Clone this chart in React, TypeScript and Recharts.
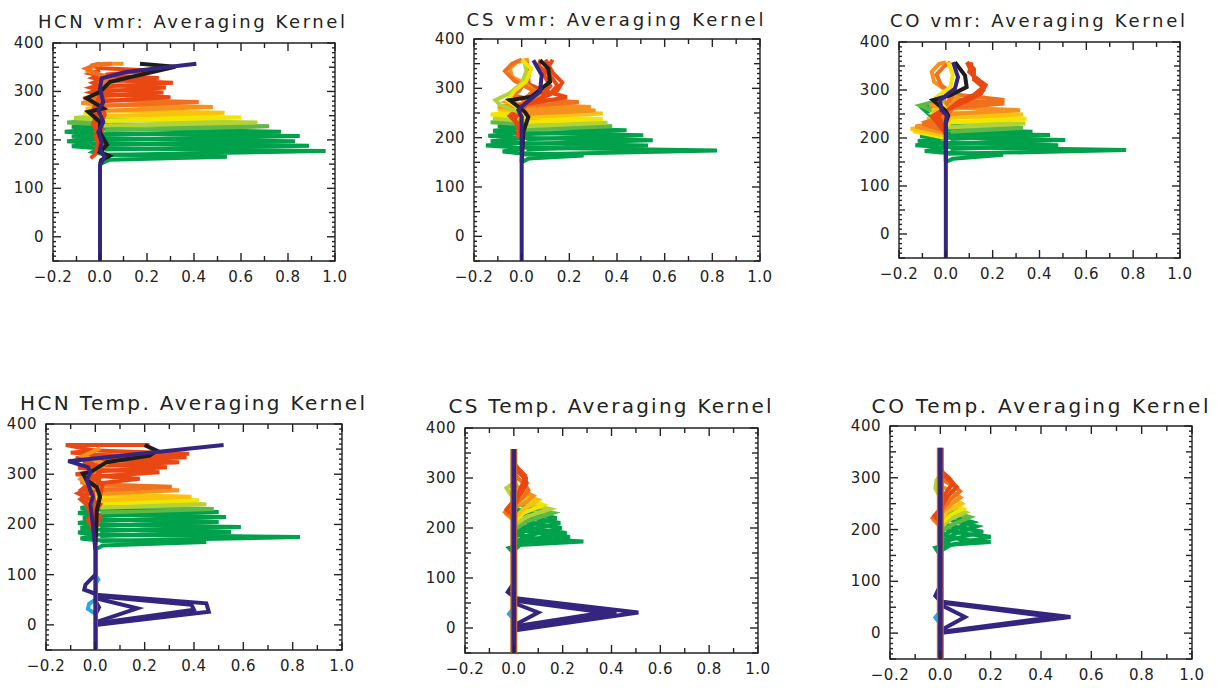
import { ScatterChart, Scatter, XAxis, YAxis, ReferenceArea } from "recharts";

type Pt = [number, number];

// axis labels
const X_LABELS = [-0.2, 0, 0.2, 0.4, 0.6, 0.8, 1.0];
const Y_LABELS = [0, 100, 200, 300, 400];
const X_TICKS: number[] = [];
for (let i = 0; i <= 12; i++) X_TICKS.push(Math.round((i * 0.1 - 0.2) * 10) / 10);
const Y_TICKS: number[] = [];
for (let v = -50; v <= 400; v += 10) Y_TICKS.push(v);

// kernel colours (low altitude -> high altitude)
const G = "#00a14b";
const LG = "#5db947";
const YG = "#b3d235";
const Y = "#f2e500";
const YO = "#f9c20f";
const O = "#f5921e";
const DO = "#f1701d";
const R = "#e94812";
const K = "#1d1d1d";
const P = "#352580";
const B = "#27a9e1";
const EDGE = "#c8651c";

// ---- HCN vmr ---- [value, altitude]
const HCN_VMR_KERNELS: Pt[][] = [
  [[0, 150], [0.04, 159], [0.54, 165], [0.02, 170], [-0.03, 175], [0, 183]],
  [[0.01, 169], [0.96, 177], [-0.02, 183], [-0.12, 187], [0.01, 193]],
  [[0.02, 180], [0.89, 188], [-0.03, 193], [-0.14, 197], [0.02, 203]],
  [[0.01, 190], [0.83, 197], [-0.02, 203], [-0.12, 207], [0.01, 213]],
  [[0.02, 200], [0.85, 208], [-0.03, 213], [-0.15, 217], [0.02, 223]],
  [[0.01, 210], [0.77, 217], [-0.02, 223], [-0.12, 227], [0.01, 233]],
  [[0.02, 220], [0.72, 228], [-0.03, 233], [-0.14, 236], [0.02, 242]],
  [[0.01, 229], [0.67, 236], [-0.02, 242], [-0.11, 245], [0.01, 251]],
  [[0.02, 239], [0.6, 246], [-0.02, 251], [-0.07, 254], [0.01, 260]],
  [[0.01, 249], [0.53, 256], [-0.02, 261], [-0.06, 264], [0.01, 270]],
  [[0.02, 260], [0.48, 268], [-0.02, 273], [-0.08, 276], [0.01, 282]],
  [[0.01, 270], [0.42, 278], [-0.03, 283], [-0.07, 286], [0.01, 292]],
  [[-0.04, 162], [0.02, 188], [-0.03, 232], [0.01, 280], [0.3, 288], [-0.01, 294], [-0.04, 298], [0, 304]],
  [[0.02, 164], [-0.02, 208], [0.02, 252], [0, 290], [0.27, 298], [-0.01, 304], [-0.04, 308], [0, 314]],
  [[-0.02, 172], [0.01, 222], [-0.03, 262], [0.01, 300], [0.28, 308], [-0.01, 314], [-0.03, 318], [0, 324]],
  [[0.01, 182], [-0.02, 242], [0.01, 310], [0.31, 318], [0, 324], [-0.03, 328], [0, 334]],
  [[0, 252], [0.02, 320], [0.25, 328], [0, 333], [-0.04, 337], [0, 344]],
  [[0, 322], [0.03, 335], [0.22, 343], [0.01, 348], [-0.04, 353], [0, 357]],
  [[0, 302], [0.05, 320], [0.02, 332], [-0.05, 342], [-0.03, 353], [0.02, 357], [0.1, 357]],
  [[0, 312], [0.04, 327], [-0.02, 338], [-0.06, 347], [-0.02, 355], [0.05, 357]],
];
const HCN_VMR_COLORS = [G, G, G, G, G, G, LG, YG, Y, YO, O, DO, R, R, R, R, R, R, O, DO];
const HCN_VMR_BLACK: Pt[] = [
  [0, 150], [0.005, 158], [0.04, 167], [0, 175], [0.03, 190], [0, 215], [0, 237], [-0.05, 258],
  [0.014, 265], [-0.057, 286], [0, 299], [0.043, 320], [0.32, 351], [0.17, 357],
];
const HCN_VMR_PURPLE: Pt[] = [
  [0, -50], [0, 148], [0.02, 165], [0, 180], [0.007, 196], [-0.007, 216], [0.014, 237],
  [-0.007, 261], [0.014, 278], [0, 306], [0.007, 327], [0.11, 340], [0.41, 357],
];

// ---- CS vmr ----
const CS_VMR_KERNELS: Pt[][] = [
  [[0, 150], [0.03, 158], [0.26, 164], [-0.02, 169], [-0.08, 172], [0, 178]],
  [[0.01, 166], [0.82, 174], [-0.02, 180], [-0.15, 184], [0.01, 190]],
  [[0.02, 176], [0.53, 184], [-0.02, 189], [-0.13, 193], [0.01, 199]],
  [[0.01, 187], [0.55, 195], [-0.03, 200], [-0.14, 204], [0.01, 210]],
  [[0.02, 197], [0.51, 205], [-0.02, 210], [-0.12, 214], [0.01, 220]],
  [[0.01, 207], [0.44, 215], [-0.02, 220], [-0.1, 223], [0.01, 229]],
  [[0.01, 216], [0.38, 223], [-0.03, 228], [-0.13, 231], [0, 237]],
  [[0.02, 223], [0.36, 230], [-0.02, 235], [-0.12, 239], [0.01, 245]],
  [[0.01, 231], [0.34, 238], [-0.03, 243], [-0.13, 247], [0, 253]],
  [[0.02, 242], [0.34, 249], [-0.02, 254], [-0.1, 257], [0, 263]],
  [[0.01, 248], [0.31, 255], [-0.03, 260], [-0.1, 263], [0, 269]],
  [[0.02, 255], [0.29, 262], [0, 268], [-0.06, 273], [-0.02, 280]],
  [[0.01, 264], [0.24, 272], [0.02, 279], [-0.04, 287], [-0.01, 295], [0.03, 325], [0.02, 358]],
  [[0, 200], [-0.03, 238], [0.02, 268], [0.19, 282], [0.1, 294], [0.03, 308], [0.02, 358]],
  [[-0.02, 200], [0, 242], [-0.03, 262], [0.06, 277], [0.15, 296], [0.17, 312], [0.13, 332], [0.1, 358]],
  [[0, 210], [-0.04, 248], [0.02, 268], [0.12, 288], [0.15, 306], [0.12, 326], [0.07, 346], [0.08, 358]],
  [[0.01, 215], [-0.05, 244], [0.01, 266], [0.08, 285], [0.12, 305], [0.09, 330], [0.12, 350], [0.13, 358]],
  [[0, 268], [0.07, 287], [0.03, 305], [-0.04, 323], [-0.05, 340], [-0.02, 354], [0.03, 358]],
  [[0, 273], [0.05, 295], [-0.03, 315], [-0.07, 335], [-0.04, 350], [0, 358]],
  [[0, 250], [-0.09, 266], [-0.11, 276], [-0.05, 290], [0, 310], [0.02, 335], [0.01, 358]],
  [[0, 255], [-0.06, 275], [-0.03, 295], [0.02, 315], [0.04, 340], [0, 358]],
];
const CS_VMR_COLORS = [G, G, G, G, G, G, LG, YG, Y, YO, O, O, DO, R, R, R, R, O, DO, YG, Y];
const CS_VMR_BLACK: Pt[] = [
  [0, 150], [0.007, 212], [0.028, 242], [0.014, 252], [-0.05, 276], [0.04, 283],
  [0.119, 313], [0.112, 340], [0.077, 357],
];
const CS_VMR_PURPLE: Pt[] = [
  [0, -50], [0, 212], [0, 242], [-0.014, 256], [0.007, 266], [0.077, 293], [0.084, 327], [0.049, 357],
];

// ---- CO vmr ----
const CO_VMR_KERNELS: Pt[][] = [
  [[0, 150], [0.03, 157], [0.245, 165], [-0.02, 170], [-0.09, 173], [0, 179]],
  [[0.01, 167], [0.77, 175], [-0.02, 181], [-0.13, 185], [0.01, 191]],
  [[0.02, 177], [0.48, 185], [-0.02, 190], [-0.12, 194], [0.01, 200]],
  [[0.01, 188], [0.51, 196], [-0.03, 201], [-0.11, 204], [0.01, 210]],
  [[0.02, 198], [0.445, 206], [-0.02, 210], [-0.1, 213], [0.01, 219]],
  [[0.01, 206], [0.37, 213], [-0.02, 218], [-0.05, 240], [-0.1, 262], [0, 275]],
  [[0.02, 213], [0.33, 221], [-0.03, 226], [0, 245], [-0.11, 268], [0, 282]],
  [[0.01, 222], [0.34, 230], [-0.02, 235], [-0.08, 240], [0, 246]],
  [[0, 200], [-0.14, 214], [0, 224], [0.02, 233], [0.345, 240], [-0.02, 245], [-0.05, 250], [0, 256]],
  [[0, 205], [-0.15, 219], [0, 229], [0.02, 242], [0.33, 249], [-0.02, 254], [-0.06, 258], [0, 264]],
  [[0, 210], [-0.13, 224], [0, 234], [0.02, 250], [0.317, 258], [0, 264], [-0.07, 268], [0, 275]],
  [[0, 215], [-0.1, 229], [0, 240], [0.02, 262], [0.25, 272], [0.04, 280], [0, 290]],
  [[0, 220], [-0.08, 234], [0, 245], [0.04, 268], [0.25, 279], [0.05, 290], [0, 300]],
  [[0, 210], [-0.05, 240], [0, 258], [0.08, 275], [0.15, 292], [0.17, 310], [0.12, 328], [0.09, 358]],
  [[0, 215], [-0.06, 245], [0, 262], [0.1, 282], [0.16, 300], [0.15, 316], [0.1, 338], [0.11, 358]],
  [[0, 220], [-0.04, 250], [0.02, 268], [0.12, 290], [0.16, 306], [0.12, 322], [0.12, 344], [0.09, 358]],
  [[0, 265], [0.05, 285], [0, 300], [-0.05, 317], [-0.06, 338], [-0.03, 354], [0, 358]],
  [[0, 268], [0.03, 292], [-0.02, 310], [-0.04, 332], [-0.01, 348], [0.02, 358]],
  [[0, 260], [-0.04, 285], [0.02, 306], [0.03, 332], [0.01, 358]],
];
const CO_VMR_COLORS = [G, G, G, G, G, G, LG, YG, Y, YO, O, DO, DO, R, R, R, O, DO, Y];
const CO_VMR_BLACK: Pt[] = [
  [0, 150], [0, 231], [0.01, 247], [-0.004, 258], [-0.055, 279], [0.018, 289], [0.089, 306],
  [0.082, 330], [0.039, 358],
];
const CO_VMR_PURPLE: Pt[] = [
  [0, -50], [0, 231], [0.004, 247], [-0.018, 258], [-0.025, 279], [0.039, 303], [0.052, 327], [0.031, 358],
];

// ---- HCN temperature ----
const HCN_TEMP_KERNELS: Pt[][] = [
  [[0, 150], [0.03, 158], [0.45, 165], [0, 169], [-0.06, 172], [0, 178]],
  [[0.02, 167], [0.83, 175], [-0.01, 180], [-0.07, 184], [0.01, 190]],
  [[0.02, 177], [0.55, 185], [-0.01, 190], [-0.06, 193], [0.01, 199]],
  [[0.02, 187], [0.59, 195], [-0.02, 200], [-0.07, 203], [0.01, 209]],
  [[0.02, 197], [0.5, 205], [-0.01, 210], [-0.05, 213], [0.01, 219]],
  [[0.02, 207], [0.53, 215], [-0.02, 220], [-0.07, 223], [0.01, 229]],
  [[0.02, 217], [0.5, 225], [-0.01, 230], [-0.06, 233], [0.01, 239]],
  [[0.02, 224], [0.48, 231], [-0.01, 236], [-0.04, 239], [0.01, 245]],
  [[0.02, 233], [0.45, 240], [-0.01, 245], [-0.03, 248], [0.01, 254]],
  [[0.02, 241], [0.42, 248], [-0.01, 253], [-0.03, 256], [0.01, 262]],
  [[0.02, 248], [0.39, 255], [0, 260], [-0.04, 264], [0.01, 270]],
  [[0.02, 261], [0.34, 268], [0, 273], [-0.05, 277], [0.01, 283]],
  [[0.02, 268], [0.31, 275], [0, 280], [-0.06, 284], [0, 290]],
  [[0, 180], [-0.03, 210], [0.02, 240], [-0.07, 262], [0.02, 282], [0.18, 291], [0, 297], [-0.08, 300], [0, 306]],
  [[0, 190], [0.02, 215], [-0.06, 250], [0, 270], [0.02, 296], [0.26, 304], [0, 309], [-0.07, 313], [0, 318]],
  [[0, 200], [-0.05, 255], [0.01, 280], [0.02, 306], [0.29, 314], [0, 319], [-0.05, 323], [0, 328]],
  [[0, 210], [-0.06, 268], [0, 290], [0.02, 317], [0.34, 324], [0, 329], [-0.08, 332], [0, 336]],
  [[0, 220], [0.03, 280], [-0.03, 300], [0.02, 327], [0.37, 334], [0, 339], [-0.1, 343], [0, 347]],
  [[0, 230], [-0.02, 300], [0.03, 333], [0.38, 341], [0, 347], [-0.12, 358], [0.22, 358]],
  [[0, 270], [-0.06, 290], [-0.02, 305], [0.04, 320], [-0.05, 336], [0.02, 352]],
];
const HCN_TEMP_COLORS = [G, G, G, G, G, G, G, LG, YG, Y, YO, O, DO, R, R, R, R, R, R, O];
const HCN_TEMP_BLACK: Pt[] = [
  [0, 150], [0.006, 228], [0.019, 255], [0.006, 274], [-0.035, 288], [-0.05, 301], [-0.02, 304],
  [0.046, 324], [0.22, 337], [0.249, 347], [0.2, 358],
];
const HCN_TEMP_LOW: Pt[][] = [
  [[0, 3], [0.4, 30], [0.39, 40], [0.01, 57]],
  [[0, 0], [0.46, 26], [0.45, 43], [0, 60]],
  [[0, 5], [0.17, 33], [0.01, 52]],
  [[0, 100], [-0.04, 80], [-0.045, 70], [0, 62]],
  [[0, 20], [0.015, 35], [0, 48]],
];
const HCN_TEMP_BLUE: Pt[][] = [
  [[0, 22], [-0.03, 32], [-0.025, 42], [0, 50]],
  [[0, 82], [0.012, 90], [0, 100]],
];
const HCN_TEMP_EDGE: Pt[] = [[0.007, -50], [0.007, 150]];
const HCN_TEMP_PURPLE: Pt[] = [
  [0, -50], [0, 150], [-0.01, 200], [-0.02, 240], [-0.01, 255], [-0.035, 288], [-0.02, 304],
  [-0.03, 314], [-0.11, 326], [0.52, 358],
];

// ---- CS temperature ----
const CS_TEMP_KERNELS: Pt[][] = [
  [[0, 150], [-0.02, 160], [0.02, 166], [0.285, 173], [0.1, 178], [0.03, 185], [0, 195]],
  [[0, 155], [0.03, 168], [0.23, 182], [0.12, 188], [0.03, 196], [0, 205]],
  [[0, 160], [0.04, 174], [0.216, 190], [0.12, 196], [0.03, 204], [0, 215]],
  [[0, 170], [0.05, 184], [0.196, 200], [0.11, 207], [0.03, 215], [0, 225]],
  [[0, 180], [0.05, 195], [0.19, 210], [0.1, 218], [0.03, 226], [0, 235]],
  [[0, 190], [0.06, 205], [0.175, 220], [0.09, 228], [0.02, 236], [0, 245]],
  [[0, 195], [0.05, 213], [0.16, 230], [0.08, 238], [0.02, 247], [0, 255]],
  [[0, 205], [0.05, 222], [0.148, 238], [0.08, 246], [0.02, 255], [-0.01, 265], [-0.03, 280], [0, 290]],
  [[0, 212], [0.04, 230], [0.12, 246], [0.06, 256], [0.01, 266], [0, 275]],
  [[0, 218], [0.04, 238], [0.1, 256], [0.05, 265], [0.01, 274], [0, 285]],
  [[0, 215], [-0.03, 228], [0, 240], [0.05, 252], [0.08, 264], [0.04, 274], [0.01, 285], [0, 295]],
  [[0, 220], [-0.035, 232], [0, 248], [0.04, 262], [0.06, 275], [0.045, 288], [0.02, 298], [0, 310]],
  [[0, 225], [-0.03, 237], [0, 255], [0.03, 270], [0.053, 290], [0.04, 302], [0.01, 315], [0, 325]],
  [[0, 240], [0.02, 265], [0.046, 285], [0.05, 300], [0.03, 312], [0.005, 325], [0, 340]],
  [[0, 250], [0.02, 272], [0.04, 292], [0.045, 305], [0.02, 318], [0, 330]],
];
const CS_TEMP_COLORS = [G, G, G, G, G, G, LG, YG, Y, YO, O, DO, R, R, R];
const CS_TEMP_LOW: Pt[][] = [
  [[0, -5], [0.51, 31], [0, 60]],
  [[0, 0], [0.42, 31], [0, 57]],
  [[0, 3], [0.37, 31], [0, 55]],
  [[0, 5], [0.1, 31], [0, 50]],
  [[0, 90], [-0.025, 72], [0, 62]],
];
const CS_TEMP_BLUE: Pt[][] = [[[0, 18], [-0.02, 28], [0, 40]]];
const CS_TEMP_CENTER: Pt[] = [[0, -50], [0, 358]];

// ---- CO temperature ----
const CO_TEMP_KERNELS: Pt[][] = [
  [[0, 150], [-0.02, 165], [0.02, 170], [0.2, 176], [0.08, 181], [0.02, 188], [0, 198]],
  [[0, 158], [0.04, 170], [0.2, 186], [0.1, 192], [0.03, 199], [0, 208]],
  [[0, 165], [0.04, 180], [0.17, 196], [0.09, 202], [0.02, 210], [0, 218]],
  [[0, 175], [0.05, 190], [0.145, 206], [0.08, 213], [0.02, 221], [0, 230]],
  [[0, 185], [0.05, 200], [0.13, 214], [0.07, 222], [0.02, 230], [0, 240]],
  [[0, 195], [0.05, 210], [0.118, 224], [0.06, 232], [0.02, 240], [0, 250]],
  [[0, 203], [0.04, 220], [0.1, 233], [0.05, 242], [0.01, 252], [-0.02, 280], [-0.015, 295], [0, 305]],
  [[0, 210], [0.04, 228], [0.091, 240], [0.05, 250], [0.01, 260], [0, 270]],
  [[0, 215], [0.03, 236], [0.085, 250], [0.05, 260], [0.01, 270], [0, 280]],
  [[0, 205], [-0.025, 218], [0, 230], [0.04, 248], [0.08, 262], [0.05, 272], [0.01, 282], [0, 292]],
  [[0, 210], [-0.03, 222], [0, 235], [0.04, 258], [0.078, 274], [0.05, 285], [0.01, 295], [0, 305]],
  [[0, 215], [-0.025, 226], [0, 240], [0.03, 265], [0.065, 282], [0.04, 294], [0.01, 305], [0, 315]],
  [[0, 235], [0.02, 270], [0.05, 290], [0.035, 300], [0.01, 310], [0, 320]],
];
const CO_TEMP_COLORS = [G, G, G, G, G, LG, YG, Y, YO, O, DO, R, R];
const CO_TEMP_LOW: Pt[][] = [
  [[0, 0], [0.517, 31], [0, 61]],
  [[0, 2], [0.45, 31], [0, 59]],
  [[0, 5], [0.098, 31], [0, 55]],
  [[0, 92], [-0.02, 72], [0, 62]],
];
const CO_TEMP_BLUE: Pt[][] = [[[0, 18], [-0.02, 30], [0, 42]]];
const CO_TEMP_CENTER: Pt[] = [[0, -50], [0, 358]];

interface LineStyle {
  c: string;
  w: number;
}
const st = (c: string, w = 4): LineStyle => ({ c, w });

interface PanelDef {
  title: string;
  box: { left: number; right: number; top: number; bottom: number };
  titleAt: { x: number; y: number; len: number; size: number };
  series: Pt[][];
  styles: LineStyle[];
}

const PANELS: PanelDef[] = [
  {
    title: "HCN vmr: Averaging Kernel",
    box: { left: 53, right: 335, top: 43, bottom: 261 },
    titleAt: { x: 191.5, y: 28, len: 307, size: 18 },
    series: [...HCN_VMR_KERNELS, HCN_VMR_BLACK, HCN_VMR_PURPLE],
    styles: [...HCN_VMR_COLORS.map((c) => st(c)), st(K), st(P)],
  },
  {
    title: "CS vmr: Averaging Kernel",
    box: { left: 474, right: 760, top: 39, bottom: 261 },
    titleAt: { x: 615, y: 26, len: 297, size: 18 },
    series: [...CS_VMR_KERNELS, CS_VMR_BLACK, CS_VMR_PURPLE],
    styles: [...CS_VMR_COLORS.map((c) => st(c)), st(K), st(P)],
  },
  {
    title: "CO vmr: Averaging Kernel",
    box: { left: 899, right: 1180, top: 42, bottom: 258 },
    titleAt: { x: 1037.5, y: 27, len: 295, size: 18 },
    series: [...CO_VMR_KERNELS, CO_VMR_BLACK, CO_VMR_PURPLE],
    styles: [...CO_VMR_COLORS.map((c) => st(c)), st(K), st(P)],
  },
  {
    title: "HCN Temp. Averaging Kernel",
    box: { left: 46, right: 342, top: 424, bottom: 650 },
    titleAt: { x: 192.5, y: 410, len: 345, size: 20 },
    series: [...HCN_TEMP_KERNELS, HCN_TEMP_BLACK, ...HCN_TEMP_LOW, ...HCN_TEMP_BLUE, HCN_TEMP_EDGE, HCN_TEMP_PURPLE],
    styles: [
      ...HCN_TEMP_COLORS.map((c) => st(c)),
      st(K),
      ...HCN_TEMP_LOW.map(() => st(P)),
      ...HCN_TEMP_BLUE.map(() => st(B)),
      st(EDGE, 2),
      st(P),
    ],
  },
  {
    title: "CS Temp. Averaging Kernel",
    box: { left: 465, right: 758, top: 428, bottom: 653 },
    titleAt: { x: 610, y: 413, len: 323, size: 20 },
    series: [...CS_TEMP_KERNELS, ...CS_TEMP_LOW, ...CS_TEMP_BLUE, CS_TEMP_CENTER, CS_TEMP_CENTER],
    styles: [
      ...CS_TEMP_COLORS.map((c) => st(c)),
      ...CS_TEMP_LOW.map(() => st(P)),
      ...CS_TEMP_BLUE.map(() => st(B)),
      st(EDGE, 7),
      st(P, 4.5),
    ],
  },
  {
    title: "CO Temp. Averaging Kernel",
    box: { left: 890, right: 1192, top: 426, bottom: 659 },
    titleAt: { x: 1040, y: 413, len: 337, size: 20 },
    series: [...CO_TEMP_KERNELS, ...CO_TEMP_LOW, ...CO_TEMP_BLUE, CO_TEMP_CENTER, CO_TEMP_CENTER],
    styles: [
      ...CO_TEMP_COLORS.map((c) => st(c)),
      ...CO_TEMP_LOW.map(() => st(P)),
      ...CO_TEMP_BLUE.map(() => st(B)),
      st(EDGE, 7),
      st(P, 4.5),
    ],
  },
];

const FONT = "'DejaVu Sans', Verdana, sans-serif";
const INK = "#222222";

const fmtX = (v: number) => (v < 0 ? "\u2212" + Math.abs(v).toFixed(1) : v.toFixed(1));

function XTick(props: any) {
  const { x, y, payload, plotH } = props;
  const v = payload.value as number;
  const labelled = X_LABELS.some((l) => Math.abs(l - v) < 1e-6);
  const len = labelled ? 8 : 5;
  return (
    <g>
      <line x1={x} y1={y} x2={x} y2={y - len} stroke={INK} strokeWidth={1.4} />
      <line x1={x} y1={y - plotH} x2={x} y2={y - plotH + len} stroke={INK} strokeWidth={1.4} />
      {labelled && (
        <text
          x={x}
          y={y + 16}
          textAnchor="middle"
          dominantBaseline="central"
          fontFamily={FONT}
          fontSize={15}
          letterSpacing={0.5}
          fill={INK}
        >
          {fmtX(v)}
        </text>
      )}
    </g>
  );
}

function YTick(props: any) {
  const { x, y, payload, plotW } = props;
  const v = payload.value as number;
  const labelled = Y_LABELS.includes(v);
  const len = labelled ? 8 : v % 50 === 0 ? 6 : 3;
  return (
    <g>
      <line x1={x} y1={y} x2={x + len} y2={y} stroke={INK} strokeWidth={1.4} />
      <line x1={x + plotW} y1={y} x2={x + plotW - len} y2={y} stroke={INK} strokeWidth={1.4} />
      {labelled && (
        <text
          x={x - 9}
          y={y}
          textAnchor="end"
          dominantBaseline="central"
          fontFamily={FONT}
          fontSize={15}
          letterSpacing={0.5}
          fill={INK}
        >
          {v}
        </text>
      )}
    </g>
  );
}

const NoDot = () => null;

function Panel({ def }: { def: PanelDef }) {
  const { box } = def;
  const plotW = box.right - box.left;
  const plotH = box.bottom - box.top;
  return (
    <div style={{ position: "absolute", left: box.left - 55, top: box.top - 10 }}>
      <ScatterChart
        width={plotW + 85}
        height={plotH + 45}
        margin={{ top: 10, right: 30, bottom: 0, left: 0 }}
      >
        <XAxis
          type="number"
          dataKey="x"
          domain={[-0.2, 1.0]}
          ticks={X_TICKS}
          interval={0}
          height={35}
          tickSize={0}
          tickMargin={0}
          axisLine={false}
          allowDataOverflow
          tick={<XTick plotH={plotH} />}
        />
        <YAxis
          type="number"
          dataKey="y"
          domain={[-50, 400]}
          ticks={Y_TICKS}
          interval={0}
          width={55}
          tickSize={0}
          tickMargin={0}
          axisLine={false}
          allowDataOverflow
          tick={<YTick plotW={plotW} />}
        />
        <ReferenceArea
          x1={-0.2}
          x2={1.0}
          y1={-50}
          y2={400}
          fill="none"
          stroke={INK}
          strokeWidth={1.4}
          ifOverflow="visible"
        />
        {def.series.map((pts, i) => (
          <Scatter
            key={i}
            data={pts.map(([x, y]) => ({ x, y }))}
            fill={def.styles[i].c}
            line={{ stroke: def.styles[i].c, strokeWidth: def.styles[i].w, strokeLinejoin: "miter" }}
            lineType="joint"
            shape={NoDot}
            isAnimationActive={false}
          />
        ))}
      </ScatterChart>
    </div>
  );
}

export default function App() {
  return (
    <div
      style={{
        position: "absolute",
        left: 0,
        top: 0,
        width: 1220,
        height: 691,
        background: "#fff",
        overflow: "hidden",
      }}
    >
      {PANELS.map((p) => (
        <Panel key={p.title} def={p} />
      ))}
      <svg
        width={1220}
        height={691}
        style={{ position: "absolute", left: 0, top: 0, pointerEvents: "none" }}
      >
        {PANELS.map((p) => (
          <text
            key={p.title}
            x={p.titleAt.x}
            y={p.titleAt.y}
            textAnchor="middle"
            fontFamily={FONT}
            fontSize={p.titleAt.size}
            textLength={p.titleAt.len}
            lengthAdjust="spacing"
            fill={INK}
          >
            {p.title}
          </text>
        ))}
      </svg>
    </div>
  );
}
